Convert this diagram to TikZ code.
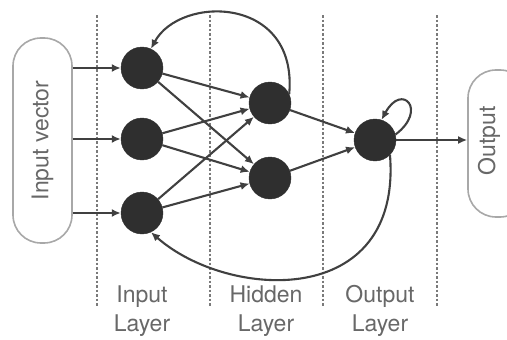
\documentclass[tikz,border=0pt]{standalone}
\usepackage{fontspec}
\setmainfont{TeX Gyre Heros}
\usetikzlibrary{arrows.meta}
\definecolor{nodefill}{HTML}{2F2F2F}
\definecolor{edgecol}{HTML}{404040}
\definecolor{txtcol}{HTML}{686868}
\definecolor{boxcol}{HTML}{A8A8A8}
\definecolor{dashcol}{HTML}{7A7A7A}
\begin{document}
\begin{tikzpicture}[x=1pt,y=-1pt,
  neuron/.style={circle,fill=nodefill,draw=nodefill,minimum size=42pt,inner sep=0pt},
  conn/.style={draw=edgecol,line width=2.1pt,-{Latex[length=9pt,width=8pt]}},
  iobox/.style={draw=boxcol,line width=1.6pt,rounded corners=28pt,fill=white},
  sep/.style={draw=dashcol,line width=1.3pt,dash pattern=on 2.5pt off 2pt},
  lbl/.style={text=txtcol,font=\fontsize{23}{29}\selectfont,align=center}]
\useasboundingbox (0,0) rectangle (507,340);
% separators
\foreach \x/\n in {97/s1,210/s2,323/s3,437/s4}{
  \coordinate (\n t) at (\x,15);
  \coordinate (\n b) at (\x,307);
  \draw[sep] (\n t) -- (\n b);
}
% boxes
\node[iobox,minimum width=59pt,minimum height=205pt] (inbox) at (42.5,140.5) {};
\node[lbl,rotate=90] (intext) at (inbox.center) {Input vector};
\node[iobox,minimum width=60pt,minimum height=147pt] (outbox) at (498,143.5) {};
\node[lbl,rotate=90] (outtext) at (489,141) {Output};
% neurons
\node[neuron] (i1) at (142,68) {};
\node[neuron] (i2) at (142,139) {};
\node[neuron] (i3) at (142,213) {};
\node[neuron] (h1) at (270,103) {};
\node[neuron] (h2) at (270,178) {};
\node[neuron] (o) at (375,140) {};
% input arrows
\draw[conn] (inbox.east |- i1) -- (i1);
\draw[conn] (inbox.east |- i2) -- (i2);
\draw[conn] (inbox.east |- i3) -- (i3);
% forward
\foreach \a in {i1,i2,i3}{
  \draw[conn] (\a) -- (h1);
  \draw[conn] (\a) -- (h2);
}
\draw[conn] (h1) -- (o);
\draw[conn] (h2) -- (o);
\draw[conn] (o) -- (outbox.west |- o);
% recurrent
\draw[conn] (h1.25) .. controls (298,-5) and (180,-5) .. (i1.65);
\draw[conn] (o.15) .. controls (428,110) and (402,82) .. (o.72);
\draw[conn] (o.-45) .. controls (402,310) and (228,300) .. (i3.-65);
% labels
\node[lbl] (l1) at (142,311) {Input\\Layer};
\node[lbl] (l2) at (266,311) {Hidden\\Layer};
\node[lbl] (l3) at (380,311) {Output\\Layer};
\end{tikzpicture}
\end{document}
